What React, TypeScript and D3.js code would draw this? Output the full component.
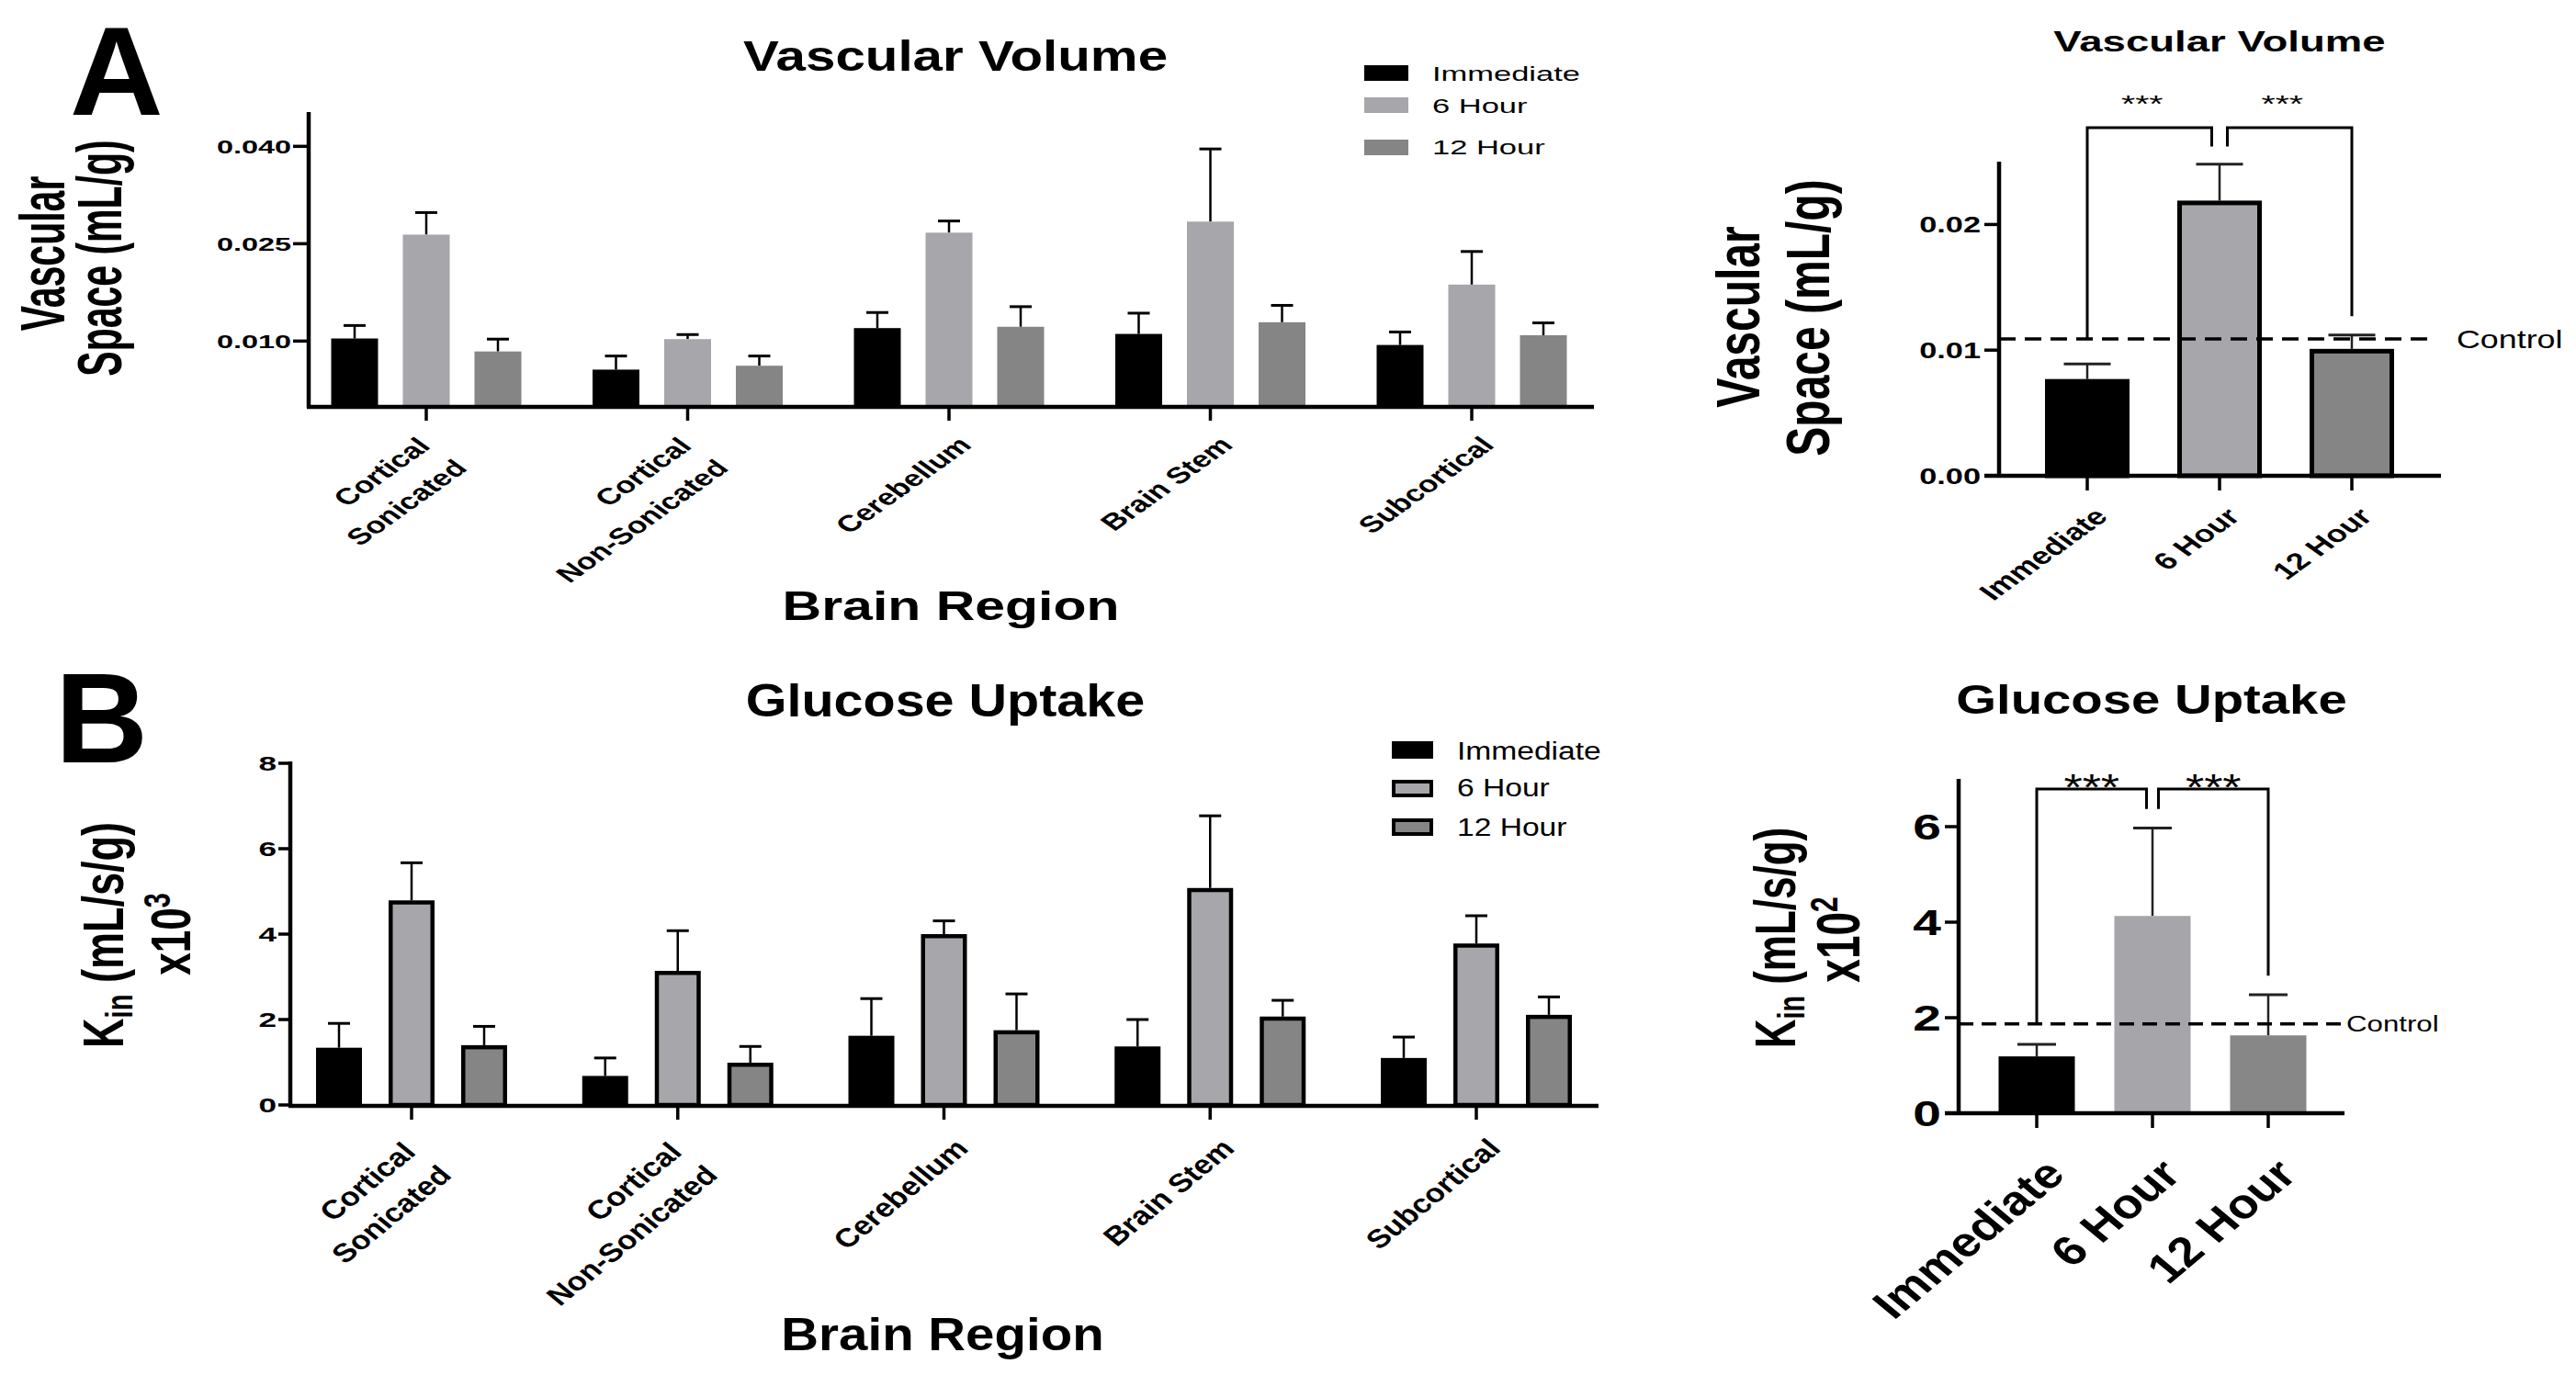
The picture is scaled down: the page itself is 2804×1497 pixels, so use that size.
import React from "react";
import * as d3 from "d3";

const FONT = "'Liberation Sans', Arial, Helvetica, sans-serif";

// ---------- DATA ----------
const regions = ["Cortical\nSonicated", "Cortical\nNon-Sonicated", "Cerebellum", "Brain Stem", "Subcortical"];
const timepoints = ["Immediate", "6 Hour", "12 Hour"];

// Panel A (left): vascular space (mL/g) by region
const vvImmediate = [0.0104, 0.0056, 0.012, 0.0111, 0.0094];
const vv6Hour = [0.0264, 0.0103, 0.0267, 0.0284, 0.0187];
const vv12Hour = [0.0084, 0.0062, 0.0122, 0.0129, 0.0109];
const vvImmediateErr = [0.002, 0.0021, 0.0024, 0.0032, 0.002];
const vv6HourErr = [0.0034, 0.0007, 0.0018, 0.0112, 0.0051];
const vv12HourErr = [0.0019, 0.0015, 0.0031, 0.0026, 0.0019];
const vvTicks = [0.01, 0.025, 0.04];

// Panel A (right): vascular space pooled
const vvPooled = [0.0077, 0.0219, 0.0101];
const vvPooledErr = [0.0012, 0.0029, 0.0011];
const vvControl = 0.0109;
const vvPooledTicks = [0, 0.01, 0.02];
const vvBrackets = [
  { a: "Immediate", b: "6 Hour", top: 0.0277, aEnd: 0.0109, bEnd: 0.0262, label: "***" },
  { a: "6 Hour", b: "12 Hour", top: 0.0277, aEnd: 0.0262, bEnd: 0.0127, label: "***" },
];

// Panel B (left): glucose Kin x10^3 by region
const guImmediate = [1.34, 0.68, 1.62, 1.37, 1.1];
const gu6Hour = [4.79, 3.14, 4.0, 5.08, 3.78];
const gu12Hour = [1.4, 0.99, 1.75, 2.07, 2.11];
const guImmediateErr = [0.57, 0.42, 0.87, 0.63, 0.49];
const gu6HourErr = [0.88, 0.94, 0.31, 1.69, 0.65];
const gu12HourErr = [0.44, 0.38, 0.85, 0.38, 0.42];
const guTicks = [0, 2, 4, 6, 8];

// Panel B (right): glucose Kin x10^2 pooled
const guPooled = [1.19, 4.13, 1.63];
const guPooledErr = [0.25, 1.84, 0.85];
const guControl = 1.87;
const guPooledTicks = [0, 2, 4, 6];
const guBrackets = [
  { a: "Immediate", b: "6 Hour", top: 6.79, aEnd: 1.88, bEnd: 6.37, label: "***" },
  { a: "6 Hour", b: "12 Hour", top: 6.79, aEnd: 6.37, bEnd: 2.88, label: "***" },
];

// ---------- STYLE ----------
const BLACK = "#000000";
const LIGHT = "#a6a6ab";
const DARK = "#858585";
const seriesColors = [BLACK, LIGHT, DARK];

type TP = {
  x: number; y: number; size: number; sx?: number; rot?: number;
  anchor?: string; weight?: string; children?: any;
};
function T({ x, y, size, sx = 1, rot = 0, anchor = "start", weight = "bold", children }: TP) {
  return (
    <text
      transform={`translate(${x},${y}) scale(${sx},1) rotate(${rot})`}
      fontSize={size}
      fontWeight={weight}
      textAnchor={anchor as any}
      fontFamily={FONT}
      fill="#000"
    >
      {children}
    </text>
  );
}

type GroupedCfg = {
  axisX: number; axisEnd: number; yBottom: number; yTop: number; yMax: number;
  ticks: number[]; fmt: (v: number) => string; tickFont: number; tickSx: number; tickLen: number;
  xRange: [number, number]; step: number; barW: number; barStroke: number; capW: number;
  values: number[][]; errs: number[][];
  labFont: number; labSx: number;
  l1: [number, number]; l2: [number, number]; single: [number, number];
  legendX: number; legendW: number; legendH: number; legendTextX: number; legendY: number[]; legendBase: number[];
  legendFont: number; legendSx: number; legendStroke: number;
};

function GroupedPanel({ c }: { c: GroupedCfg }) {
  const y = d3.scaleLinear().domain([0, c.yMax]).range([c.yBottom, c.yTop]);
  const x = d3.scalePoint<string>().domain(regions).range(c.xRange);
  const pi = (c.step - c.barW) / c.step;
  const inner = d3
    .scaleBand<string>()
    .domain(timepoints)
    .range([-1.5 * c.step, 1.5 * c.step])
    .paddingInner(pi)
    .paddingOuter(pi / 2);
  const sw = c.barStroke;
  return (
    <g>
      {timepoints.map((tp, si) =>
        regions.map((r, ri) => {
          const v = c.values[si][ri];
          const e = c.errs[si][ri];
          const bx = (x(r) as number) + (inner(tp) as number);
          const bw = inner.bandwidth();
          const cx = bx + bw / 2;
          return (
            <g key={tp + r}>
              <line x1={cx} x2={cx} y1={y(v)} y2={y(v + e)} stroke="#000" strokeWidth={2.5} />
              <line x1={cx - c.capW / 2} x2={cx + c.capW / 2} y1={y(v + e)} y2={y(v + e)} stroke="#000" strokeWidth={3} />
              <rect
                x={bx + sw / 2}
                y={y(v) + sw / 2}
                width={bw - sw}
                height={Math.max(0, y(0) - y(v) - sw / 2)}
                fill={seriesColors[si]}
                stroke={sw > 0 ? "#000" : "none"}
                strokeWidth={sw}
              />
            </g>
          );
        })
      )}
      <line x1={c.axisX} x2={c.axisX} y1={c.yTop - 2} y2={c.yBottom + 2} stroke="#000" strokeWidth={4.5} />
      <line x1={c.axisX - 2} x2={c.axisEnd} y1={c.yBottom + 1} y2={c.yBottom + 1} stroke="#000" strokeWidth={4.5} />
      {c.ticks.map((t) => (
        <g key={t}>
          <line x1={c.axisX - c.tickLen} x2={c.axisX} y1={y(t)} y2={y(t)} stroke="#000" strokeWidth={3.5} />
          <T x={c.axisX - c.tickLen - 2} y={y(t) + c.tickFont * 0.36} size={c.tickFont} sx={c.tickSx} anchor="end">
            {c.fmt(t)}
          </T>
        </g>
      ))}
      {regions.map((r) => {
        const tx = x(r) as number;
        const lines = r.split("\n");
        return (
          <g key={r}>
            <line x1={tx} x2={tx} y1={c.yBottom} y2={c.yBottom + 16} stroke="#000" strokeWidth={3.5} />
            {lines.length === 2 ? (
              <>
                <T x={tx + c.l1[0]} y={c.l1[1]} size={c.labFont} sx={c.labSx} rot={-45} anchor="end">{lines[0]}</T>
                <T x={tx + c.l2[0]} y={c.l2[1]} size={c.labFont} sx={c.labSx} rot={-45} anchor="end">{lines[1]}</T>
              </>
            ) : (
              <T x={tx + c.single[0]} y={c.single[1]} size={c.labFont} sx={c.labSx} rot={-45} anchor="end">{lines[0]}</T>
            )}
          </g>
        );
      })}
      {timepoints.map((tp, i) => (
        <g key={tp}>
          <rect
            x={c.legendX + c.legendStroke / 2}
            y={c.legendY[i] + c.legendStroke / 2}
            width={c.legendW - c.legendStroke}
            height={c.legendH - c.legendStroke}
            fill={seriesColors[i]}
            stroke={c.legendStroke > 0 ? "#000" : "none"}
            strokeWidth={c.legendStroke}
          />
          <T x={c.legendTextX} y={c.legendBase[i]} size={c.legendFont} sx={c.legendSx} weight="normal">{tp}</T>
        </g>
      ))}
    </g>
  );
}

type SummaryCfg = {
  axisX: number; axisEnd: number; yBottom: number; yTop: number; yMax: number;
  ticks: number[]; fmt: (v: number) => string; tickFont: number; tickSx: number; tickLen: number;
  xRange: [number, number]; barW: number; barStroke: number; capW: number;
  values: number[]; errs: number[]; colors: string[];
  control: number; dashEnd: number; dash: string; ctrlX: number; ctrlFont: number; ctrlSx: number;
  brackets: { a: string; b: string; top: number; aEnd: number; bEnd: number; label: string }[];
  gap: number; starFont: number; starSx: number; starY: number; starDx: number;
  labFont: number; labSx: number; labOff: [number, number];
};

function SummaryPanel({ c }: { c: SummaryCfg }) {
  const y = d3.scaleLinear().domain([0, c.yMax]).range([c.yBottom, c.yTop]);
  const x = d3.scalePoint<string>().domain(timepoints).range(c.xRange);
  const sw = c.barStroke;
  const mid = (timepoints.length - 1) / 2;
  return (
    <g>
      {timepoints.map((tp, i) => {
        const cx = x(tp) as number;
        const v = c.values[i];
        const e = c.errs[i];
        return (
          <g key={tp}>
            <line x1={cx} x2={cx} y1={y(v)} y2={y(v + e)} stroke="#222" strokeWidth={2.5} />
            <line x1={cx - c.capW / 2} x2={cx + c.capW / 2} y1={y(v + e)} y2={y(v + e)} stroke="#222" strokeWidth={3} />
            <rect
              x={cx - c.barW / 2 + sw / 2}
              y={y(v) + sw / 2}
              width={c.barW - sw}
              height={y(0) - y(v) - sw / 2}
              fill={c.colors[i]}
              stroke={sw > 0 ? "#000" : "none"}
              strokeWidth={sw}
            />
          </g>
        );
      })}
      <line x1={c.axisX} x2={c.dashEnd} y1={y(c.control)} y2={y(c.control)} stroke="#000" strokeWidth={3.5} strokeDasharray={c.dash} />
      <T x={c.ctrlX} y={y(c.control) + c.ctrlFont * 0.36} size={c.ctrlFont} sx={c.ctrlSx} weight="normal">Control</T>
      {c.brackets.map((b, i) => {
        const ia = timepoints.indexOf(b.a);
        const ib = timepoints.indexOf(b.b);
        const xa = (x(b.a) as number) + (ia === mid ? c.gap : 0);
        const xb = (x(b.b) as number) - (ib === mid ? c.gap : 0);
        const p = d3.path();
        p.moveTo(xa, y(b.aEnd));
        p.lineTo(xa, y(b.top));
        p.lineTo(xb, y(b.top));
        p.lineTo(xb, y(b.bEnd));
        return (
          <g key={i}>
            <path d={p.toString()} fill="none" stroke="#000" strokeWidth={3} />
            <T x={(xa + xb) / 2 + c.starDx} y={c.starY} size={c.starFont} sx={c.starSx} anchor="middle" weight="normal">{b.label}</T>
          </g>
        );
      })}
      <line x1={c.axisX} x2={c.axisX} y1={c.yTop} y2={c.yBottom + 2} stroke="#000" strokeWidth={4.5} />
      <line x1={c.axisX - c.tickLen} x2={c.axisEnd} y1={c.yBottom} y2={c.yBottom} stroke="#000" strokeWidth={4.5} />
      {c.ticks.map((t) => (
        <g key={t}>
          <line x1={c.axisX - c.tickLen} x2={c.axisX} y1={y(t)} y2={y(t)} stroke="#000" strokeWidth={3.5} />
          <T x={c.axisX - c.tickLen - 4} y={y(t) + c.tickFont * 0.36} size={c.tickFont} sx={c.tickSx} anchor="end">{c.fmt(t)}</T>
        </g>
      ))}
      {timepoints.map((tp) => {
        const tx = x(tp) as number;
        return (
          <g key={tp}>
            <line x1={tx} x2={tx} y1={c.yBottom} y2={c.yBottom + 16} stroke="#000" strokeWidth={3.5} />
            <T x={tx + c.labOff[0]} y={c.labOff[1]} size={c.labFont} sx={c.labSx} rot={-45} anchor="end">{tp}</T>
          </g>
        );
      })}
    </g>
  );
}

const fmt3 = d3.format(".3f");
const fmt2 = d3.format(".2f");
const fmt0 = d3.format("d");

export default function App() {
  const cfgA: GroupedCfg = {
    axisX: 336, axisEnd: 1735, yBottom: 442, yTop: 124, yMax: 0.045,
    ticks: vvTicks, fmt: fmt3, tickFont: 20, tickSx: 1.62, tickLen: 17,
    xRange: [464, 1602], step: 78, barW: 51, barStroke: 0, capW: 24,
    values: [vvImmediate, vv6Hour, vv12Hour], errs: [vvImmediateErr, vv6HourErr, vv12HourErr],
    labFont: 25, labSx: 1.4, l1: [6, 487], l2: [46, 511], single: [26, 486],
    legendX: 1485, legendW: 48, legendH: 17, legendTextX: 1559, legendY: [71, 106, 152], legendBase: [88, 123, 168],
    legendFont: 23, legendSx: 1.5, legendStroke: 0,
  };
  const cfgB: GroupedCfg = {
    axisX: 316, axisEnd: 1740, yBottom: 1203, yTop: 831, yMax: 8,
    ticks: guTicks, fmt: fmt0, tickFont: 22, tickSx: 1.6, tickLen: 13,
    xRange: [448, 1607], step: 79, barW: 50, barStroke: 4.5, capW: 24,
    values: [guImmediate, gu6Hour, gu12Hour], errs: [guImmediateErr, gu6HourErr, gu12HourErr],
    labFont: 28.5, labSx: 1.22, l1: [6, 1256], l2: [45, 1281], single: [28, 1252],
    legendX: 1515, legendW: 45, legendH: 19, legendTextX: 1586, legendY: [807, 849, 891], legendBase: [827, 867, 910],
    legendFont: 28, legendSx: 1.2, legendStroke: 4,
  };
  const cfgAR: SummaryCfg = {
    axisX: 2176, axisEnd: 2657, yBottom: 518, yTop: 176, yMax: 0.025,
    ticks: vvPooledTicks, fmt: fmt2, tickFont: 24, tickSx: 1.43, tickLen: 16,
    xRange: [2272, 2560], barW: 92, barStroke: 5, capW: 51,
    values: vvPooled, errs: vvPooledErr, colors: [BLACK, LIGHT, DARK],
    control: vvControl, dashEnd: 2651, dash: "18 10", ctrlX: 2674, ctrlFont: 28, ctrlSx: 1.28,
    brackets: vvBrackets, gap: 8.5, starFont: 26, starSx: 1.5, starY: 122, starDx: -8,
    labFont: 26, labSx: 1.39, labOff: [24, 564],
  };
  const cfgBR: SummaryCfg = {
    axisX: 2132, axisEnd: 2552, yBottom: 1212, yTop: 848, yMax: 7,
    ticks: guPooledTicks, fmt: fmt0, tickFont: 38, tickSx: 1.45, tickLen: 15,
    xRange: [2217, 2469], barW: 83, barStroke: 0, capW: 42,
    values: guPooled, errs: guPooledErr, colors: [BLACK, "#a5a5aa", "#878787"],
    control: guControl, dashEnd: 2550, dash: "16 9", ctrlX: 2554, ctrlFont: 24, ctrlSx: 1.3,
    brackets: guBrackets, gap: 6.5, starFont: 40, starSx: 1.3, starY: 871, starDx: 0,
    labFont: 45, labSx: 1.2, labOff: [33, 1281],
  };

  return (
    <svg
      width={2804}
      height={1497}
      viewBox="0 0 2804 1497"
      style={{ position: "absolute", left: 0, top: 0, background: "#fff" }}
    >
      <rect x={0} y={0} width={2804} height={1497} fill="#fff" />
      <T x={76} y={125} size={138} sx={1.02}>A</T>
      <T x={60} y={830} size={140} sx={1}>B</T>

      {/* Panel A left */}
      <T x={1040} y={77} size={47} sx={1.24} anchor="middle">Vascular Volume</T>
      <T x={70} y={276} size={41} sx={1.65} rot={-90} anchor="middle">Vascular</T>
      <T x={132} y={281} size={41} sx={1.65} rot={-90} anchor="middle">Space (mL/g)</T>
      <GroupedPanel c={cfgA} />
      <T x={1035} y={675} size={45} sx={1.31} anchor="middle">Brain Region</T>

      {/* Panel A right */}
      <T x={2416} y={56} size={31} sx={1.47} anchor="middle">Vascular Volume</T>
      <T x={1915} y={345} size={48} sx={1.38} rot={-90} anchor="middle">Vascular</T>
      <T x={1991} y={346} size={48} sx={1.38} rot={-90} anchor="middle">Space (mL/g)</T>
      <SummaryPanel c={cfgAR} />

      {/* Panel B left */}
      <T x={1029} y={780} size={50} sx={1.15} anchor="middle">Glucose Uptake</T>
      <T x={134} y={1018} size={45} sx={1.4} rot={-90} anchor="middle">
        K<tspan fontSize="0.65em" dy="0.25em">in</tspan>
        <tspan dy="-0.16em"> (mL/s/g)</tspan>
      </T>
      <T x={207} y={1017} size={44} sx={1.4} rot={-90} anchor="middle">
        x10<tspan fontSize="0.65em" dy="-0.55em">3</tspan>
      </T>
      <GroupedPanel c={cfgB} />
      <T x={1026} y={1470} size={50} sx={1.13} anchor="middle">Brain Region</T>

      {/* Panel B right */}
      <T x={2342} y={777} size={44} sx={1.28} anchor="middle">Glucose Uptake</T>
      <T x={1954} y={1021} size={44} sx={1.45} rot={-90} anchor="middle">
        K<tspan fontSize="0.65em" dy="0.25em">in</tspan>
        <tspan dy="-0.16em"> (mL/s/g)</tspan>
      </T>
      <T x={2024} y={1023} size={46} sx={1.45} rot={-90} anchor="middle">
        x10<tspan fontSize="0.65em" dy="-0.55em">2</tspan>
      </T>
      <SummaryPanel c={cfgBR} />
    </svg>
  );
}
